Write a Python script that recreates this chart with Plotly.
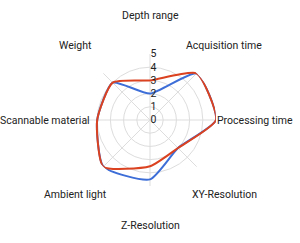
import math
import plotly.graph_objects as go

categories = ["Depth range", "Acquisition time", "Processing time", "XY-Resolution",
              "Z-Resolution", "Ambient light", "Scannable material", "Weight"]
series_blue = [2, 5, 5, 3, 4.5, 5, 4, 4]
series_red = [3, 5, 5, 3, 3.5, 5, 4, 4]
radial_ticks = [0, 1, 2, 3, 4, 5]

W, H = 300, 243
CX, CY = 150, 120          # polar centre (px from top-left)
R_PLOT = 66                # outer ring radius (px)
R_LABEL = 105              # category label centre radius (px)

def closed(v):
    return list(v) + [v[0]]

fig = go.Figure()
fig.add_trace(go.Scatterpolar(r=closed(series_blue), theta=closed(categories), mode="lines",
                              line=dict(color="#3d6ed8", width=2, shape="spline", smoothing=0.55),
                              showlegend=False, hoverinfo="skip"))
fig.add_trace(go.Scatterpolar(r=closed(series_red), theta=closed(categories), mode="lines",
                              line=dict(color="#db4220", width=2, shape="spline", smoothing=0.55),
                              showlegend=False, hoverinfo="skip"))

# category labels centred on a ring around the polar area
annotations = []
n = len(categories)
for i, name in enumerate(categories):
    ang = 2 * math.pi * i / n
    px = CX + R_LABEL * math.sin(ang)
    py = CY - R_LABEL * math.cos(ang)
    annotations.append(dict(text=name, x=px / W, y=1 - py / H, xref="paper", yref="paper",
                            xanchor="center", yanchor="middle", showarrow=False,
                            font=dict(family="Roboto", size=10.5, color="#222222")))

fig.update_layout(
    width=W, height=H, margin=dict(l=0, r=0, t=0, b=0),
    paper_bgcolor="white", plot_bgcolor="white",
    font=dict(family="Roboto", size=10.5, color="#222222"),
    annotations=annotations,
    polar=dict(
        domain=dict(x=[(CX - R_PLOT) / W, (CX + R_PLOT) / W],
                    y=[1 - (CY + R_PLOT) / H, 1 - (CY - R_PLOT) / H]),
        bgcolor="white",
        angularaxis=dict(type="category", categoryarray=categories, direction="clockwise",
                         rotation=90, showline=False, gridcolor="#dddddd", gridwidth=1,
                         ticks="", showticklabels=False),
        radialaxis=dict(range=[0, 5], tickvals=radial_ticks, angle=90, tickangle=90,
                        showline=False, gridcolor="#dddddd", gridwidth=1, ticks="",
                        tickfont=dict(size=10.5, color="#222222")),
    ),
)
fig.write_html("out.html")
